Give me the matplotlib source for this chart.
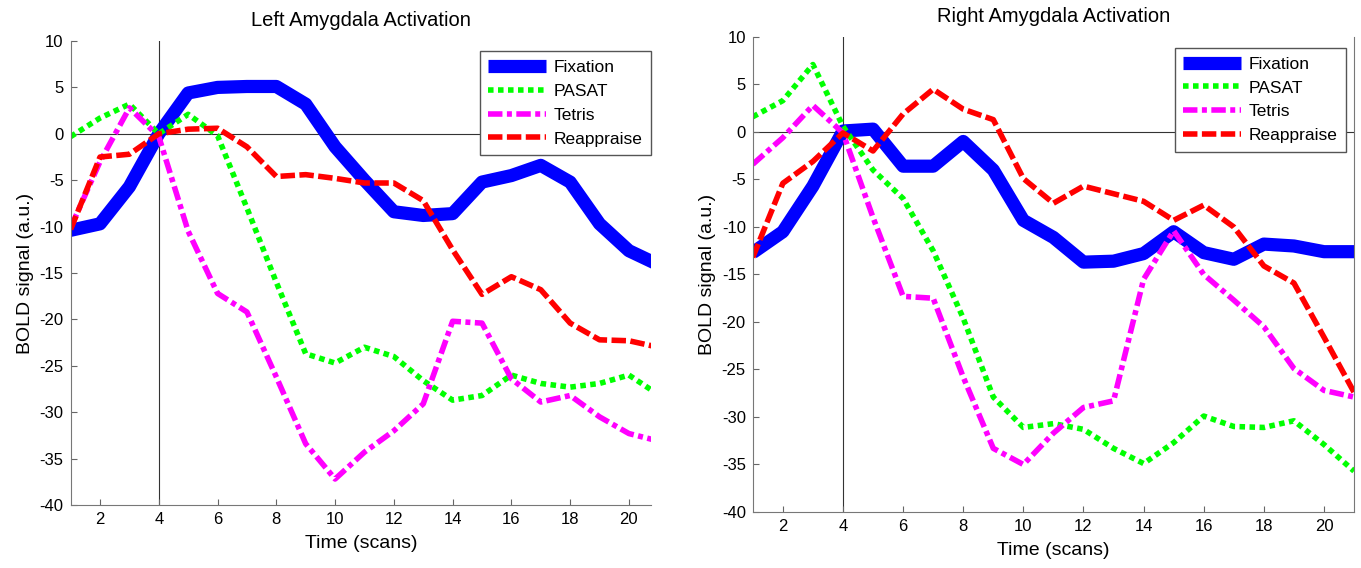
import matplotlib.pyplot as plt
import numpy as np

plt.rcParams['font.family'] = ['Liberation Sans', 'DejaVu Sans']
plt.rcParams['axes.unicode_minus'] = False

scans = np.arange(1, 22)

# left amygdala
left_fix = [-10.4, -9.7, -5.7, 0.0, 4.4, 5.0, 5.1, 5.1, 3.2, -1.4, -5.0,
            -8.4, -8.8, -8.6, -5.2, -4.5, -3.4, -5.2, -9.7, -12.6, -14.1]
left_pasat = [-0.3, 1.7, 3.2, 0.0, 2.1, -0.2, -8.0, -16.0, -23.7, -24.7, -23.0,
              -24.0, -26.6, -28.7, -28.2, -26.0, -26.9, -27.3, -26.9, -26.0, -28.1]
left_tetris = [-10.1, -3.0, 2.8, -0.3, -10.5, -17.2, -19.2, -26.2, -33.4, -37.2, -34.3,
               -32.0, -29.1, -20.2, -20.4, -26.4, -28.9, -28.2, -30.5, -32.3, -33.1]
left_reapp = [-10.3, -2.5, -2.2, 0.0, 0.5, 0.6, -1.4, -4.6, -4.4, -4.8, -5.3,
              -5.3, -7.2, -12.5, -17.3, -15.4, -16.8, -20.4, -22.2, -22.3, -23.0]

# right amygdala
right_fix = [-12.7, -10.5, -5.7, 0.1, 0.3, -3.6, -3.6, -1.0, -4.0, -9.3, -11.1,
             -13.7, -13.6, -12.8, -10.5, -12.7, -13.4, -11.8, -12.0, -12.6, -12.6]
right_pasat = [1.6, 3.3, 7.1, 0.6, -4.0, -7.0, -12.5, -19.6, -27.9, -31.1, -30.7,
               -31.3, -33.3, -34.9, -32.7, -29.9, -31.0, -31.1, -30.4, -32.9, -35.7]
right_tetris = [-3.4, -0.6, 2.8, -0.1, -9.0, -17.3, -17.5, -25.8, -33.3, -35.0, -31.7,
                -29.0, -28.3, -15.5, -10.4, -15.0, -17.7, -20.5, -24.9, -27.2, -27.9]
right_reapp = [-13.2, -5.4, -3.1, -0.1, -2.0, 1.9, 4.5, 2.4, 1.3, -4.9, -7.5,
               -5.7, -6.5, -7.3, -9.3, -7.7, -10.0, -14.1, -15.9, -21.6, -27.4]

labels = ['Fixation', 'PASAT', 'Tetris', 'Reappraise']
xticks = np.arange(2, 21, 2)
yticks = np.arange(-40, 11, 5)


def draw(ax, series, title, xmax, legend_anchor, right_spine):
    fix, pasat, tetris, reapp = series
    ax.axvline(4, color='#333333', lw=0.8, zorder=1)
    ax.axhline(0, color='#333333', lw=0.8, zorder=1)
    ax.plot(scans, fix, color='#0000ff', lw=9.5, solid_capstyle='butt', label=labels[0])
    ax.plot(scans, pasat, color='#00ff00', lw=4, linestyle=(0, (1, 0.8)),
            dash_capstyle='butt', label=labels[1])
    ax.plot(scans, tetris, color='#ff00ff', lw=4, linestyle=(0, (2.6, 0.8, 0.9, 0.8)),
            dash_capstyle='butt', label=labels[2])
    ax.plot(scans, reapp, color='#ff0000', lw=4, linestyle=(0, (2.6, 0.8)),
            dash_capstyle='butt', label=labels[3])
    ax.set_xlim(1, xmax)
    ax.set_ylim(-40, 10)
    ax.set_xticks(xticks)
    ax.set_yticks(yticks)
    ax.tick_params(direction='in', length=4, labelsize=12, colors='#666666',
                   labelcolor='black', pad=5)
    for side in ['top', 'right']:
        ax.spines[side].set_visible(False)
    if right_spine:
        ax.spines['right'].set_visible(True)
    for s in ax.spines.values():
        s.set_color('#777777')
    ax.set_title(title, fontsize=14.5, pad=11)
    ax.set_xlabel('Time (scans)', fontsize=14, labelpad=6)
    ax.set_ylabel('BOLD signal (a.u.)', fontsize=14, labelpad=4)
    leg = ax.legend(loc='upper right', bbox_to_anchor=legend_anchor, borderaxespad=0,
                    fontsize=12.5, handlelength=3.3, labelspacing=0.5, handletextpad=0.45,
                    borderpad=0.5, fancybox=False, framealpha=1)
    leg.get_frame().set_edgecolor('#555555')
    leg.get_frame().set_linewidth(1)


fig = plt.figure(figsize=(13.61, 5.68), dpi=100)
ax1 = fig.add_axes([0.0519, 0.1109, 0.4264, 0.8169])
ax2 = fig.add_axes([0.5531, 0.0986, 0.4418, 0.8363])

draw(ax1, (left_fix, left_pasat, left_tetris, left_reapp),
     'Left Amygdala Activation', 20.75, (1.0, 0.978), False)
draw(ax2, (right_fix, right_pasat, right_tetris, right_reapp),
     'Right Amygdala Activation', 21, (0.9867, 0.977), True)

fig.savefig('out.png', dpi=100)
